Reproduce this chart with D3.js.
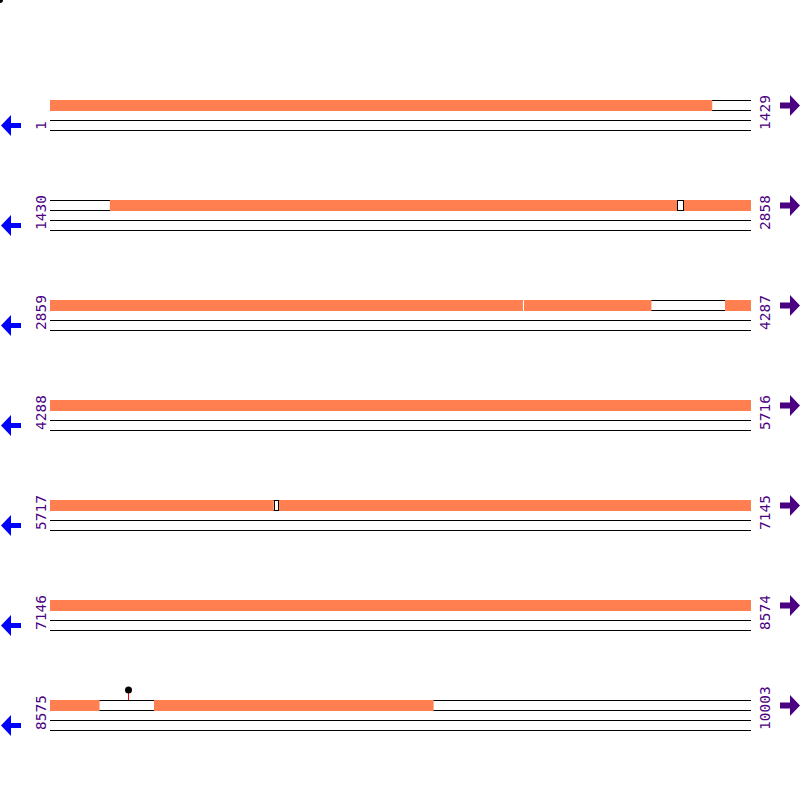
<!DOCTYPE html>
<html>
<head>
<meta charset="utf-8">
<script src="https://cdn.jsdelivr.net/npm/d3@7"></script>
<style>
  body { margin: 0; background: white; }
</style>
</head>
<body>
<script>
// sequence and row layout
const seqLength = 10003;
const rowLength = 1429;

// annotated features (start, end in bp)
const featureStarts = [1, 1552, 2722, 3824, 4235, 6184, 8787];
const featureEnds   = [1350, 2708, 3822, 4084, 6172, 8675, 9356];

// small breaks between features
const breakStarts = [2709, 3823, 6173];
const breakEnds   = [2721, 3823, 6183];

// variant positions
const variants = [8734];

const w = 800;
const h = 800;
const left = 50;
const right = 751;
const rowGap = 100;
const top0 = 100;

const svg = d3.select("body")
  .append("svg")
  .attr("width", w)
  .attr("height", h);

const rowStarts = d3.range(1, seqLength + 1, rowLength);

const rowScale = d3.scaleLinear()
  .domain([0, rowStarts.length - 1])
  .range([top0, top0 + rowGap * (rowStarts.length - 1)]);

// little dot in the corner
svg.append("circle")
  .attr("cx", 0).attr("cy", 0).attr("r", 3)
  .attr("fill", "black");

// split an interval over the rows it touches
function pieces(s, e){
  const out = [];
  rowStarts.forEach(function(rs, i){
    const re = Math.min(rs + rowLength - 1, seqLength);
    const a = Math.max(s, rs), b = Math.min(e, re);
    if (a <= b) out.push({row: i, rs: rs, a: a, b: b});
  });
  return out;
}

function xOf(rs){
  return d3.scaleLinear().domain([rs, rs + rowLength]).range([left, right]);
}

rowStarts.forEach(function(rs, i){
  const y = rowScale(i);
  const re = Math.min(rs + rowLength - 1, seqLength);
  const x = xOf(rs);
  const g = svg.append("g");

  [0, 10, 20, 30].forEach(function(dy){
    g.append("line")
      .attr("x1", left).attr("x2", x(re + 1))
      .attr("y1", y + dy + 0.5).attr("y2", y + dy + 0.5)
      .attr("stroke", "black").attr("stroke-width", 1);
  });

  g.append("text")
    .attr("transform", "translate(46," + (y + 30) + ") rotate(-90)")
    .text(rs)
    .attr("fill", "#4B0082")
    .style("font-family", "DejaVu Sans Mono")
    .style("font-size", "14.5px");

  g.append("text")
    .attr("transform", "translate(770," + (y + 30) + ") rotate(-90)")
    .text(re)
    .attr("fill", "#4B0082")
    .style("font-family", "DejaVu Sans Mono")
    .style("font-size", "14.5px");

  // blue arrow pointing left
  const ly = y + 25.5;
  g.append("polygon")
    .attr("points", [[1, ly], [11, ly - 10.5], [11, ly - 2.5], [21, ly - 2.5],
                     [21, ly + 2.5], [11, ly + 2.5], [11, ly + 10.5]].join(" "))
    .attr("fill", "#0000FF");

  // purple arrow pointing right
  const ry = y + 5.5;
  g.append("polygon")
    .attr("points", [[800, ry], [790, ry - 10.5], [790, ry - 3], [780, ry - 3],
                     [780, ry + 3], [790, ry + 3], [790, ry + 10.5]].join(" "))
    .attr("fill", "#4B0082");
});

// features
featureStarts.forEach(function(s, k){
  pieces(s, featureEnds[k]).forEach(function(p){
    const x = xOf(p.rs);
    svg.append("rect")
      .attr("x", x(p.a))
      .attr("y", rowScale(p.row))
      .attr("width", x(p.b + 1) - x(p.a))
      .attr("height", 11)
      .attr("fill", "#FF7F50");
  });
});

// breaks
breakStarts.forEach(function(s, k){
  pieces(s, breakEnds[k]).forEach(function(p){
    const x = xOf(p.rs);
    const x0 = Math.round(x(p.a));
    const x1 = Math.round(x(p.b + 1));
    const y = rowScale(p.row);
    if (x1 - x0 < 2) {
      svg.append("rect")
        .attr("x", x0).attr("y", y)
        .attr("width", 1).attr("height", 11)
        .attr("fill", "white");
    } else {
      svg.append("rect")
        .attr("x", x0 + 0.5).attr("y", y + 0.5)
        .attr("width", x1 - x0 - 1).attr("height", 10)
        .attr("fill", "white")
        .attr("stroke", "black")
        .attr("stroke-width", 1);
    }
  });
});

// variants
variants.forEach(function(v){
  pieces(v, v).forEach(function(p){
    const x = xOf(p.rs);
    const cx = Math.round(x(v + 0.5)) + 0.5;
    const y = rowScale(p.row);
    svg.append("line")
      .attr("x1", cx).attr("x2", cx)
      .attr("y1", y).attr("y2", y - 10)
      .attr("stroke", "red").attr("stroke-width", 1);
    svg.append("circle")
      .attr("cx", cx).attr("cy", y - 10).attr("r", 3.5)
      .attr("fill", "black");
  });
});
</script>
</body>
</html>
